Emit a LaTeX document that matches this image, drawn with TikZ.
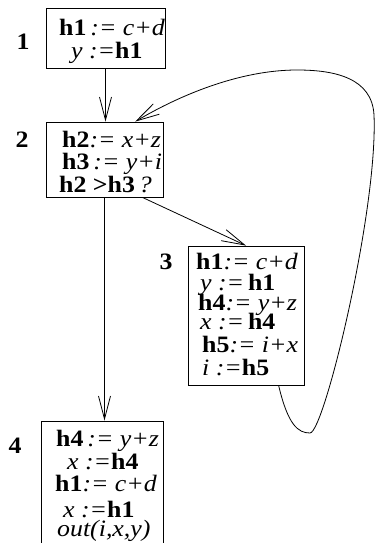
\documentclass[tikz,border=0pt]{standalone}
\usepackage{fontspec}
\setmainfont[FakeStretch=1.1]{Liberation Serif}
\usetikzlibrary{arrows.meta}
\begin{document}
\begin{tikzpicture}[x=1pt,y=-1pt,
  every node/.style={font=\fontsize{23.5}{23.5}\selectfont},
  blk/.style={draw,line width=0.8pt,rectangle,inner sep=0pt},
  txt/.style={inner sep=0pt,anchor=base west,text height=15pt,text depth=4pt},
  lbl/.style={inner sep=0pt,anchor=base,font=\fontsize{23.5}{23.5}\selectfont\bfseries},
  flow/.style={line width=0.8pt,-{Straight Barb[length=23pt,width=12pt]}}]
\useasboundingbox (0,0) rectangle (376,543);
% boxes
\node[blk,minimum width=119pt,minimum height=60pt] (b1) at (105.5,38) {};
\node[blk,minimum width=117pt,minimum height=75pt] (b2) at (104.5,159.5) {};
\node[blk,minimum width=116pt,minimum height=139pt] (b3) at (246,315.5) {};
\node[blk,minimum width=122pt,minimum height=131pt] (b4) at (102,486.5) {};
% labels
\node[lbl] (l1) at (23,50) {1};
\node[lbl] (l2) at (22,147) {2};
\node[lbl] (l3) at (166,269) {3};
\node[lbl] (l4) at (15,453) {4};
% box 1
\node[txt] (t11) at (59,36) {\textbf{h1}\,\textit{:= c+d}};
\node[txt] (t12) at (71,59) {\textit{y :=}\textbf{h1}};
% box 2
\node[txt] (t21) at (62,147) {\textbf{h2}\textit{:= x+z}};
\node[txt] (t22) at (62,169) {\textbf{h3}\,\textit{:= y+i}};
\node[txt] (t23) at (59,192) {\textbf{h2 >h3}\,\textit{?}};
% box 3
\node[txt] (t31) at (196,269) {\textbf{h1}\textit{:= c+d}};
\node[txt] (t32) at (200,290) {\textit{y :=}\,\textbf{h1}};
\node[txt] (t33) at (198,310) {\textbf{h4}\textit{:= y+z}};
\node[txt] (t34) at (200,329) {\textit{x :=}\,\textbf{h4}};
\node[txt] (t35) at (202,352) {\textbf{h5}\textit{:= i+x}};
\node[txt] (t36) at (202,375) {\textit{i :=}\textbf{h5}};
% box 4
\node[txt] (t41) at (56,446) {\textbf{h4}\,\textit{:= y+z}};
\node[txt] (t42) at (67,469) {\textit{x :=}\textbf{h4}};
\node[txt] (t43) at (55,491) {\textbf{h1}\textit{:= c+d}};
\node[txt] (t44) at (63,517) {\textit{x :=}\textbf{h1}};
\node[txt] (t45) at (57,536) {\textit{out(i,x,y)}};
% connectors
\draw[flow] (b1.south) -- (b1.south |- b2.north);
\draw[flow] (b2.south) -- (b2.south |- b4.north);
\draw[flow] (b2.-45) -- (b3.north);
\draw[flow] (b3.-65) .. controls (288,425) and (298,433) .. (310,433)
  .. controls (324,433) and (378,210) .. (374,115)
  .. controls (372,78) and (335,70) .. (297,70)
  .. controls (240,70) and (180,95) .. (b2.51);
\end{tikzpicture}
\end{document}
